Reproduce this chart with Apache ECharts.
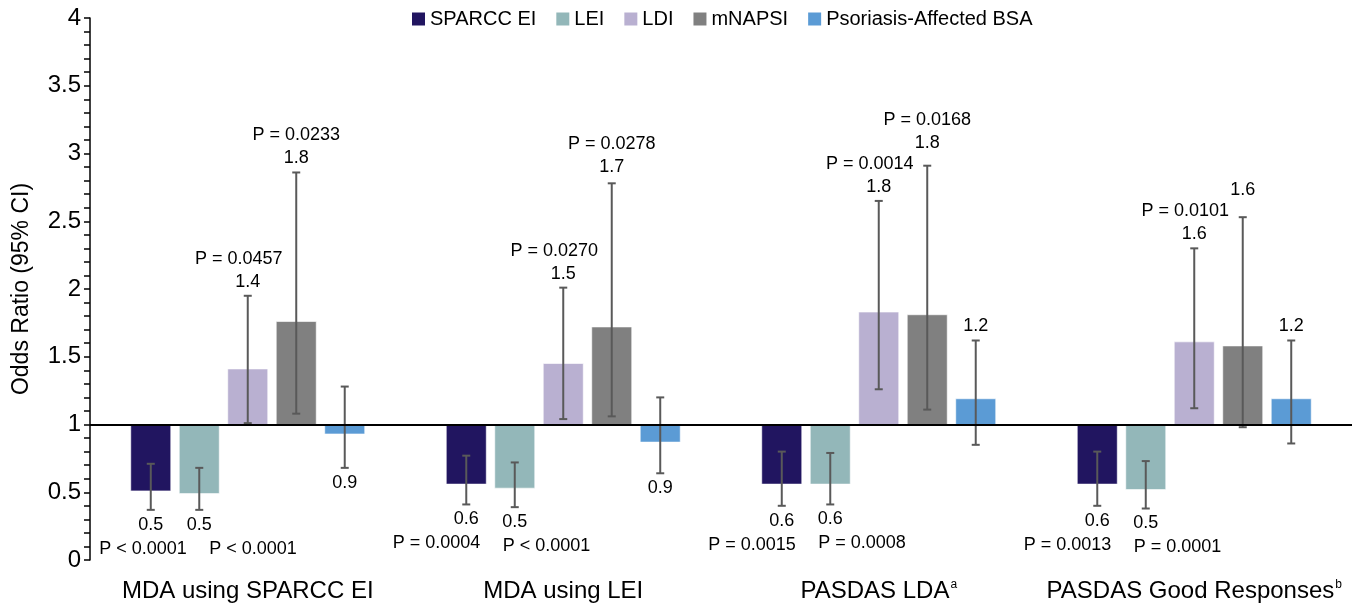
<!DOCTYPE html>
<html><head><meta charset="utf-8">
<script src="https://cdn.jsdelivr.net/npm/echarts@6/dist/echarts.min.js"></script>
<style>html,body{margin:0;padding:0;background:#fff}#c{width:1355px;height:604px}</style>
</head><body><div id="c"></div>
<script>
// ---- data ----
const categories = ['MDA using SPARCC EI', 'MDA using LEI', 'PASDAS LDA', 'PASDAS Good Responses'];
const categorySup = ['', '', 'a', 'b'];
const seriesNames = ['SPARCC EI', 'LEI', 'LDI', 'mNAPSI', 'Psoriasis-Affected BSA'];

const sparccOR   = [0.51, 0.56, 0.56, 0.56];
const sparccLow  = [0.37, 0.41, 0.40, 0.40];
const sparccHigh = [0.71, 0.77, 0.80, 0.80];
const sparccP    = ['P < 0.0001', 'P = 0.0004', 'P = 0.0015', 'P = 0.0013'];

const leiOR   = [0.49, 0.53, 0.56, 0.52];
const leiLow  = [0.37, 0.39, 0.41, 0.38];
const leiHigh = [0.68, 0.72, 0.79, 0.73];
const leiP    = ['P < 0.0001', 'P < 0.0001', 'P = 0.0008', 'P = 0.0001'];

const ldiOR   = [1.41, 1.45, 1.83, 1.61];
const ldiLow  = [1.01, 1.04, 1.26, 1.12];
const ldiHigh = [1.95, 2.01, 2.65, 2.30];
const ldiP    = ['P = 0.0457', 'P = 0.0270', 'P = 0.0014', 'P = 0.0101'];

const mnapsiOR   = [1.76, 1.72, 1.81, 1.58];
const mnapsiLow  = [1.08, 1.06, 1.11, 0.98];
const mnapsiHigh = [2.86, 2.78, 2.91, 2.53];
const mnapsiP    = ['P = 0.0233', 'P = 0.0278', 'P = 0.0168', ''];

const bsaOR   = [0.93, 0.87, 1.19, 1.19];
const bsaLow  = [0.68, 0.64, 0.85, 0.86];
const bsaHigh = [1.28, 1.20, 1.62, 1.62];
const bsaP    = ['', '', '', ''];

const referenceOR = 1;

// ---- styling (label nudges, not data) ----
const colors = ['#211560', '#93b7b9', '#b9b0d1', '#808080', '#5b9bd5'];
const FONT = '"Liberation Sans", Arial, sans-serif';
const lowerPShiftByCategory = [22, 0, 0, 0];
const upperPShiftBySeries = [0, 0, -9, 0, 0];
const upperLiftMNAPSI = [0, 2, 9, 13];

const ors = [sparccOR, leiOR, ldiOR, mnapsiOR, bsaOR];
const lows = [sparccLow, leiLow, ldiLow, mnapsiLow, bsaLow];
const highs = [sparccHigh, leiHigh, ldiHigh, mnapsiHigh, bsaHigh];
const ps = [sparccP, leiP, ldiP, mnapsiP, bsaP];

function makeRender(k) {
  return function (params, api) {
    const di = params.dataIndex;
    const ci = api.value(0), v = api.value(1), lo = api.value(2), hi = api.value(3);
    const p = ps[k][di];
    const band = api.size([1, 0])[0];
    const pitch = band * 0.1537, bw = band * 0.1268;
    const c0 = api.coord([ci, referenceOR]);
    const cx = c0[0] + (k - 2) * pitch;
    const yBase = c0[1];
    const yVal = api.coord([ci, v])[1];
    const yLo = api.coord([ci, lo])[1];
    const yHi = api.coord([ci, hi])[1];
    const cap = 4;
    const eb = { stroke: '#595959', lineWidth: 2 };
    const children = [
      { type: 'rect', shape: { x: cx - bw / 2, y: Math.min(yBase, yVal), width: bw, height: Math.abs(yVal - yBase) },
        style: { fill: colors[k], stroke: 'rgba(255,255,255,0.6)', lineWidth: 1 } },
      { type: 'line', shape: { x1: cx, y1: yHi, x2: cx, y2: yLo }, style: eb },
      { type: 'line', shape: { x1: cx - cap, y1: yHi, x2: cx + cap, y2: yHi }, style: eb },
      { type: 'line', shape: { x1: cx - cap, y1: yLo, x2: cx + cap, y2: yLo }, style: eb }
    ];
    const vt = (Math.round(v * 10) / 10).toFixed(1);
    const ts = { fontSize: 18, fontFamily: FONT, fill: '#000', verticalAlign: 'middle' };
    if (v >= referenceOR) {
      const lift = k === 3 ? upperLiftMNAPSI[di] : 0;
      const yv = yHi - 14 - lift;
      children.push({ type: 'text', style: Object.assign({ text: vt, x: cx, y: yv, align: 'center' }, ts) });
      if (p) children.push({ type: 'text', style: Object.assign({ text: p, x: cx + upperPShiftBySeries[k], y: yv - 23, align: 'center' }, ts) });
    } else {
      const yv = yLo + 15;
      children.push({ type: 'text', style: Object.assign({ text: vt, x: cx, y: yv, align: 'center' }, ts) });
      if (p) {
        const right = k === 0;
        const sh = lowerPShiftByCategory[di];
        children.push({ type: 'text', style: Object.assign({ text: p, x: (right ? cx + 14 : cx - 12) + sh, y: yv + 24, align: right ? 'right' : 'left' }, ts) });
      }
    }
    return { type: 'group', children: children };
  };
}

const series = seriesNames.map((name, k) => ({
  name: name,
  type: 'custom',
  itemStyle: { color: colors[k] },
  encode: { x: 0, y: 1 },
  data: categories.map((_, i) => [i, ors[k][i], lows[k][i], highs[k][i]]),
  renderItem: makeRender(k),
  z: 2
}));
series.push({
  type: 'line',
  data: categories.map(() => null),
  silent: true,
  z: 5,
  markLine: {
    silent: true, symbol: 'none', animation: false,
    label: { show: false },
    lineStyle: { color: '#000', width: 2, type: 'solid' },
    data: [{ yAxis: referenceOR }]
  }
});

const chart = echarts.init(document.getElementById('c'), null, { renderer: 'canvas' });
chart.setOption({
  animation: false,
  backgroundColor: '#fff',
  textStyle: { fontFamily: FONT },
  grid: { left: 90, right: 3, top: 18, bottom: 44, containLabel: false, outerBoundsMode: 'none' },
  legend: {
    data: seriesNames,
    left: 412, top: 9, padding: 0,
    icon: 'rect', itemWidth: 13, itemHeight: 13, itemGap: 20,
    textStyle: { fontSize: 20, color: '#000', fontFamily: FONT }
  },
  xAxis: {
    type: 'category',
    data: categories,
    axisLine: { show: false },
    axisTick: { show: false },
    axisLabel: {
      margin: 19, color: '#000', fontSize: 24, fontFamily: FONT, interval: 0,
      formatter: (val, idx) => categorySup[idx] ? val + '{sup|' + categorySup[idx] + '}' : val,
      rich: { sup: { fontSize: 12, verticalAlign: 'top', lineHeight: 12, padding: [0, 0, 10, 1], color: '#000', fontFamily: FONT } }
    }
  },
  yAxis: {
    type: 'value',
    min: 0, max: 4, interval: 0.5,
    name: 'Odds Ratio (95% CI)',
    nameLocation: 'middle', nameGap: 57,
    nameTextStyle: { fontSize: 23, color: '#000', fontFamily: FONT },
    axisLine: { show: true, lineStyle: { color: '#000', width: 1.5 } },
    axisTick: { show: true, length: 6, lineStyle: { color: '#000', width: 1.5 } },
    minorTick: { show: true, splitNumber: 5, length: 6, lineStyle: { color: '#000', width: 1.5 } },
    splitLine: { show: false },
    axisLabel: { color: '#000', fontSize: 24, fontFamily: FONT, margin: 9 }
  },
  series: series
});
</script></body></html>
